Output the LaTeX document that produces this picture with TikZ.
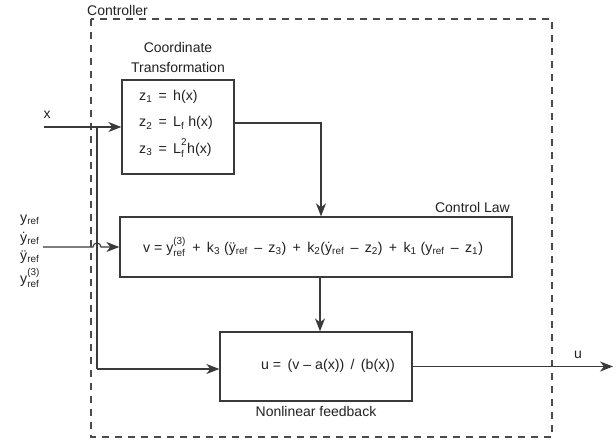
\documentclass[tikz,border=0pt]{standalone}
\usepackage{fontspec}
\setmainfont{Liberation Sans}
\usepackage{amsmath}
\usetikzlibrary{arrows.meta,calc}
\definecolor{ln}{HTML}{3A3A3A}
\definecolor{txt}{HTML}{222222}
\definecolor{dsh}{HTML}{4A4A4A}
\newcommand\supsubx[3]{#1$^{\text{#2}\rule[-2.5pt]{0pt}{0pt}}_{\text{#3}}$}
\begin{document}
\begin{tikzpicture}[x=1pt,y=-1pt,
  every node/.style={text=txt, inner sep=0pt},
  blk/.style={draw=ln, line width=1.3pt, rectangle},
  wire/.style={draw=ln, line width=1.1pt},
  arr/.style={wire, -{Stealth[length=13pt,width=10pt,inset=4pt]}},
  lab/.style={font=\fontsize{14}{20}\selectfont},
  eq/.style={font=\fontsize{14.2}{17}\selectfont},
]
\useasboundingbox[fill=white] (0,0) rectangle (616,440);

% controller frame
\draw[dsh, line width=1.2pt, dash pattern=on 7pt off 6pt] (91,19) rectangle (552,437);
\node[lab, anchor=west] (ctrl) at (87,10) {Controller};

% blocks
\node[blk, minimum width=112pt, minimum height=94pt] (ct) at (178,127) {};
\node[lab, align=center] (cttitle) at (178,57) {Coordinate\\Transformation};
\node[eq, anchor=west, align=left, font=\fontsize{14.2}{26.5}\selectfont] (cteq) at (139,124)
  {z\textsubscript{1} \,=\, h(x)\\ z\textsubscript{2} \,=\, L\textsubscript{f} h(x)\\ z\textsubscript{3} \,=\, \supsubx{L}{2}{f}h(x)};

\node[blk, minimum width=392pt, minimum height=60pt] (cl) at (316,247) {};
\node[eq] (cleq) at (313,247)
  {v = \supsubx{y}{(3)}{ref} \,+\, k\textsubscript{3} (ÿ\textsubscript{ref} \,–\, z\textsubscript{3}) \,+\, k\textsubscript{2}(ẏ\textsubscript{ref} \,–\, z\textsubscript{2}) \,+\, k\textsubscript{1} (y\textsubscript{ref} \,–\, z\textsubscript{1})};
\node[lab, anchor=east] (cllab) at (510,207) {Control Law};

\node[blk, minimum width=192pt, minimum height=69pt] (nl) at (316,366.5) {};
\node[eq] (nleq) at (328,366) {u = \,(v – a(x)) \,/\, (b(x))};
\node[lab] (nllab) at (316,411) {Nonlinear feedback};

% inputs / outputs
\node[lab] (xlab) at (47,115) {x};
\coordinate (xin) at (44,127);
\coordinate (jx) at (97,127);
\coordinate (jb) at (97,369);
\node[eq, anchor=west] (y0) at (20,220) {y\textsubscript{ref}};
\node[eq, anchor=west] (y1) at (20,239) {ẏ\textsubscript{ref}};
\node[eq, anchor=west] (y2) at (20,257) {ÿ\textsubscript{ref}};
\node[eq, anchor=west] (y3) at (20,278) {\supsubx{y}{(3)}{ref}};
\coordinate (yin) at (43,247);
\node[lab] (ulab) at (578,355) {u};
\coordinate (uout) at (613,366.5);

% connectors
\draw[arr] (xin) -- (ct.west);
\draw[wire] (jx) -- (jb);
\draw[arr] (jb) -- (jb -| nl.west);
\draw[arr] (yin) -- ++(50,0) arc[start angle=180, end angle=0, radius=4pt] -- (cl.west);
\draw[arr] ([yshift=4pt]ct.east) -| ([xshift=5pt]cl.north);
\draw[arr] ([xshift=4pt]cl.south) -- ([xshift=4pt]nl.north);
\draw[arr] (nl.east) -- (uout);
\end{tikzpicture}
\end{document}
